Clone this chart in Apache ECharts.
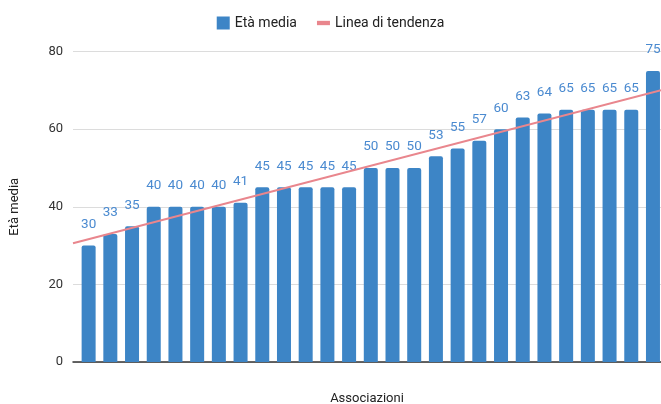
<!DOCTYPE html>
<html><head><meta charset="utf-8">
<script src="https://cdn.jsdelivr.net/npm/echarts@6/dist/echarts.min.js"></script>
<style>html,body{margin:0;padding:0;background:#fff}#c{width:661px;height:404px}</style>
</head><body><div id="c"></div>
<script>
const categories = Array.from({length: 27}, (_, i) => i); // association index (unlabelled)
const etaMedia = [30,33,35,40,40,40,40,41,45,45,45,45,45,50,50,50,53,55,57,60,63,64,65,65,65,65,75];
const trendX = [-0.72, 26.37];
const trendY = [30.6, 70.0];
const yTicks = [0, 20, 40, 60, 80];

const chart = echarts.init(document.getElementById('c'));
chart.setOption({
  animation: false,
  textStyle: {fontFamily: 'Roboto, Arial, sans-serif'},
  legend: {
    top: 11, left: 'center', itemGap: 20, itemWidth: 13, itemHeight: 13,
    textStyle: {fontSize: 14, color: '#222'},
    data: [
      {name: 'Età media', icon: 'rect'},
      {name: 'Linea di tendenza', icon: 'path://M0,4 L12,4 L12,8 L0,8 Z', itemStyle: {color: '#e9868d'}}
    ]
  },
  grid: {left: 73, right: 0, top: 51.5, bottom: 42, outerBoundsMode: 'none', containLabel: false},
  xAxis: {
    type: 'value', min: trendX[0], max: trendX[1],
    name: 'Associazioni', nameLocation: 'middle', nameGap: 30,
    nameTextStyle: {fontSize: 13, color: '#222'},
    axisLabel: {show: false}, axisTick: {show: false}, splitLine: {show: false},
    axisLine: {show: true, onZero: true, lineStyle: {color: '#333', width: 1.5}}
  },
  yAxis: {
    type: 'value', min: yTicks[0], max: yTicks[yTicks.length - 1], interval: 20,
    name: 'Età media', nameLocation: 'middle', nameGap: 52,
    nameTextStyle: {fontSize: 13, color: '#222'},
    axisLabel: {fontSize: 13, color: '#333', margin: 10},
    axisLine: {show: false}, axisTick: {show: false},
    splitLine: {lineStyle: {color: '#dcdcdc'}}
  },
  series: [
    {
      name: 'Età media', type: 'bar', barWidth: 14,
      data: etaMedia.map((v, i) => [categories[i], v]),
      itemStyle: {color: '#3d85c6', borderRadius: [2, 2, 0, 0]},
      label: {show: true, position: 'top', distance: 14, fontSize: 13.5, color: '#4a8ad0',
        formatter: p => p.value[1]}
    },
    {
      name: 'Linea di tendenza', type: 'line', symbol: 'none',
      data: trendX.map((x, i) => [x, trendY[i]]),
      lineStyle: {color: '#e9868d', width: 2}, itemStyle: {color: '#e9868d'}, z: 5
    }
  ]
});
</script></body></html>
